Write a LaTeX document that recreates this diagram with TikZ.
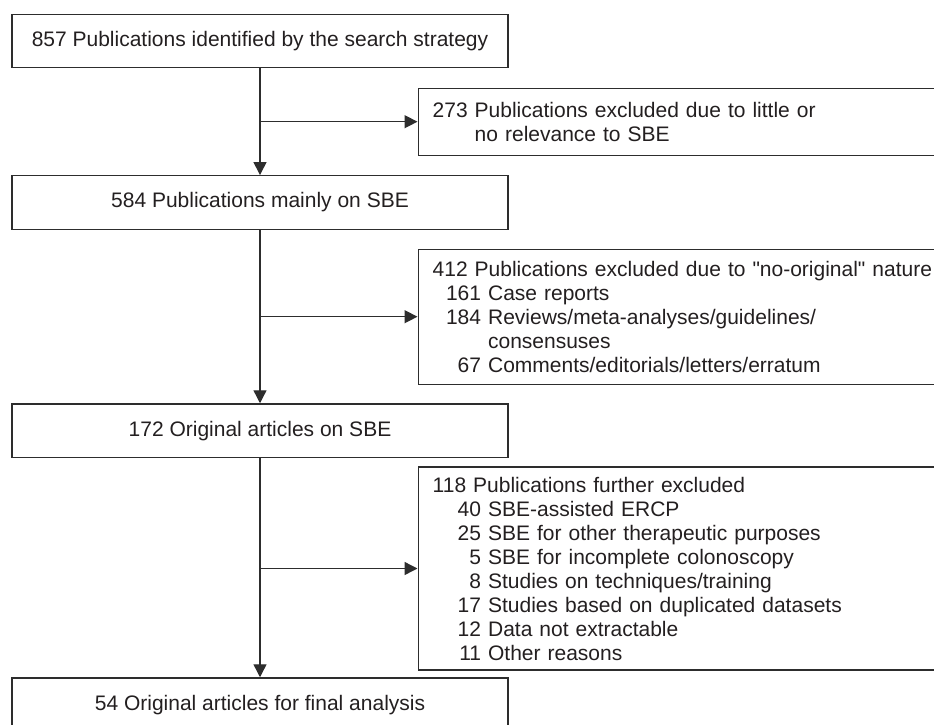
\documentclass[tikz,border=0pt]{standalone}
\usepackage{fontspec}
\setmainfont{Liberation Sans}[Ligatures=TeXOff]
\usetikzlibrary{arrows.meta}
\definecolor{ink}{RGB}{35,31,32}
\definecolor{linec}{RGB}{45,45,45}
\newcommand{\numbox}[1]{\makebox[48.4pt][r]{#1}\ }
\begin{document}
\begin{tikzpicture}[x=1pt,y=1pt,
  mainbox/.style={draw=linec, line width=1.4pt, minimum width=496pt, inner sep=0pt,
    text=ink, font=\fontsize{21}{24}\selectfont},
  exbox/.style={draw=linec, line width=1.4pt, anchor=west, inner xsep=14.5pt, inner ysep=0pt,
    text width=540pt, align=left, text=ink, font=\fontsize{21}{24}\selectfont},
  arr/.style={draw=linec, line width=1.4pt, -{Triangle[length=13pt,width=13pt]}}]
\useasboundingbox (0,0) rectangle (934,-725);
\clip (0,0) rectangle (934,-725);

\node[mainbox, minimum height=53.5pt] (b1) at (260,-41) {857 Publications identified by the search strategy};
\node[mainbox, minimum height=53.5pt] (b2) at (260,-202.5) {584 Publications mainly on SBE};
\node[mainbox, minimum height=53.5pt] (b3) at (260,-430.7) {172 Original articles on SBE};
\node[mainbox, minimum height=53.5pt] (b4) at (260,-704.7) {54 Original articles for final analysis};

\node[exbox, minimum height=67pt] (x1) at (417.5,-121.7)
  {273 Publications excluded due to little or\\\hphantom{273}\ no relevance to SBE};
\node[exbox, minimum height=135pt] (x2) at (417.5,-316.7)
  {412 Publications excluded due to "no-original" nature\\
   \numbox{161}Case reports\\
   \numbox{184}Reviews/meta-analyses/guidelines/\\
   \numbox{}consensuses\\
   \numbox{67}Comments/editorials/letters/erratum};
\node[exbox, minimum height=203pt] (x3) at (417.5,-568.5)
  {118 Publications further excluded\\
   \numbox{40}SBE-assisted ERCP\\
   \numbox{25}SBE for other therapeutic purposes\\
   \numbox{5}SBE for incomplete colonoscopy\\
   \numbox{8}Studies on techniques/training\\
   \numbox{17}Studies based on duplicated datasets\\
   \numbox{12}Data not extractable\\
   \numbox{11}Other reasons};

\draw[arr] (b1.south) -- (b2.north);
\draw[arr] (b2.south) -- (b3.north);
\draw[arr] (b3.south) -- (b4.north);
\draw[arr] (b1.south |- x1.west) -- (x1.west);
\draw[arr] (b2.south |- x2.west) -- (x2.west);
\draw[arr] (b3.south |- x3.west) -- (x3.west);
\end{tikzpicture}
\end{document}
